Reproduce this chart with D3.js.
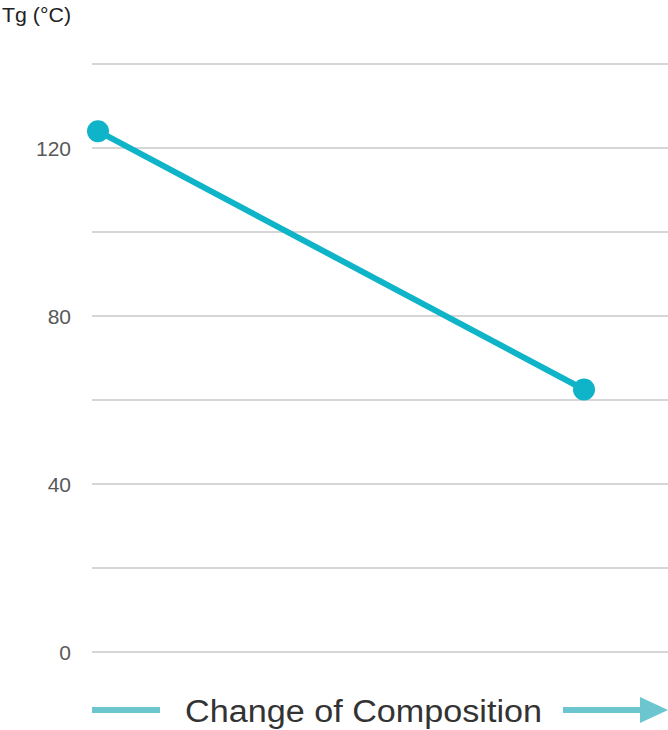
<!DOCTYPE html>
<html><head><meta charset="utf-8">
<script src="https://cdn.jsdelivr.net/npm/d3@7"></script>
<style>
html,body{margin:0;padding:0;background:#fff;}
svg{display:block;}
</style></head>
<body>
<svg id="chart" width="668" height="730"></svg>
<script>
const categories = ["Composition A", "Composition B"];
const tgValues = [124, 62.5];
const gridValues = [0, 20, 40, 60, 80, 100, 120, 140];
const tickLabels = [0, 40, 80, 120];
const yTitle = "Tg (°C)";
const xTitle = "Change of Composition";

const svg = d3.select("#chart");
const y = d3.scaleLinear().domain([0, 140]).range([652, 64]);
const x = d3.scalePoint().domain(categories).range([98, 584]);

// gridlines
svg.append("g").selectAll("line").data(gridValues).join("line")
  .attr("x1", 92).attr("x2", 668)
  .attr("y1", d => y(d)).attr("y2", d => y(d))
  .attr("stroke", "#c8c8c8").attr("stroke-width", 1.5);

// y tick labels
svg.append("g").selectAll("text").data(tickLabels).join("text")
  .attr("x", 71).attr("y", d => y(d) + 8)
  .attr("text-anchor", "end")
  .attr("font-family", "Liberation Sans, Arial, sans-serif")
  .attr("font-size", 21).attr("fill", "#595959")
  .text(d => d);

// y title
svg.append("text").attr("x", 2).attr("y", 22)
  .attr("font-family", "Liberation Sans, Arial, sans-serif")
  .attr("font-size", 21).attr("fill", "#222")
  .attr("textLength", 69).attr("lengthAdjust", "spacingAndGlyphs")
  .text(yTitle);

// line
const color = "#0fb4c8";
const data = categories.map((c, i) => ({c, v: tgValues[i]}));
svg.append("path").datum(data)
  .attr("d", d3.line().x(d => x(d.c)).y(d => y(d.v)))
  .attr("fill", "none").attr("stroke", color).attr("stroke-width", 6);
svg.append("g").selectAll("circle").data(data).join("circle")
  .attr("cx", d => x(d.c)).attr("cy", d => y(d.v)).attr("r", 11)
  .attr("fill", color);

// bottom arrow label
const arrowColor = "#6cc6d0";
svg.append("rect").attr("x", 92).attr("y", 707).attr("width", 68).attr("height", 6).attr("fill", arrowColor);
svg.append("rect").attr("x", 563).attr("y", 707).attr("width", 80).attr("height", 6).attr("fill", arrowColor);
svg.append("path").attr("d", "M640,697 L668,710 L640,723 Z").attr("fill", arrowColor);
svg.append("text").attr("x", 185).attr("y", 722)
  .attr("font-family", "Liberation Sans, Arial, sans-serif")
  .attr("font-size", 31).attr("fill", "#333")
  .attr("textLength", 357).attr("lengthAdjust", "spacingAndGlyphs")
  .text(xTitle);
</script>
</body></html>
